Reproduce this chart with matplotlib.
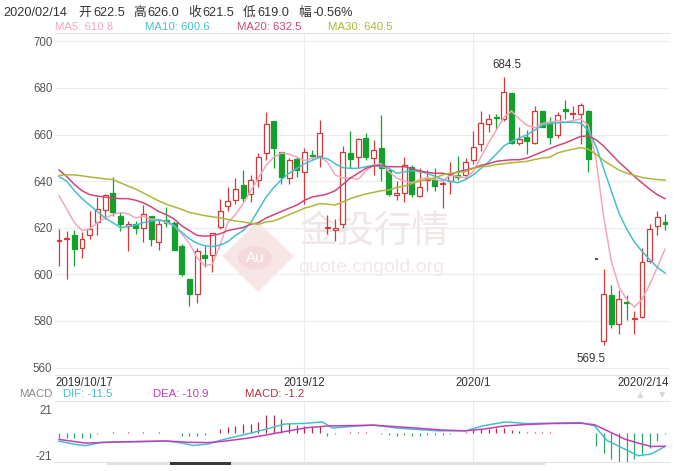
import numpy as np
import matplotlib
matplotlib.use("Agg")
import matplotlib.pyplot as plt
from matplotlib.patches import Polygon, Circle, Rectangle

plt.rcParams['font.family'] = ['Liberation Sans', 'Noto Sans CJK SC', 'DejaVu Sans']

# K线数据 2019/10/17 - 2020/2/14
opens = [614.3, 615.0, 617.0, 611.5, 616.7, 622.6, 627.7, 635.0, 625.2, 620.8,
         621.8, 620.1, 625.2, 614.0, 623.3, 621.9, 612.3, 597.9, 591.4, 608.1,
         608.1, 620.5, 629.5, 631.8, 638.2, 634.5, 640.7, 651.9, 665.8, 652.7,
         641.4, 649.6, 643.8, 651.4, 650.7, 619.8, 619.2, 621.8, 652.1, 650.3,
         658.5, 649.9, 654.4, 644.8, 634.2, 634.8, 646.2, 633.8, 640.7, 640.3,
         638.6, 640.0, 642.5, 642.7, 649.3, 655.8, 664.7, 667.4, 666.7, 677.7,
         656.4, 658.9, 656.4, 670.2, 665.4, 659.9, 670.8, 668.8, 668.8, 670.1,
         606.8, 571.2, 591.2, 578.6, 588.3, 580.8, 581.8, 605.8, 620.8, 622.5]
highs = [619.5, 618.8, 619.0, 618.1, 627.4, 633.2, 634.5, 641.6, 626.6, 622.9,
         622.9, 629.7, 625.2, 623.6, 629.0, 622.9, 612.9, 598.0, 611.2, 612.0,
         617.7, 632.5, 637.3, 641.4, 644.8, 642.5, 652.3, 669.5, 665.8, 652.7,
         649.9, 650.3, 654.4, 653.4, 666.3, 625.6, 623.6, 655.1, 661.5, 658.5,
         660.5, 657.8, 668.4, 644.8, 640.0, 650.3, 646.8, 645.5, 644.8, 645.5,
         640.0, 648.2, 651.0, 650.0, 661.7, 670.1, 668.8, 669.0, 684.5, 677.7,
         663.4, 661.9, 672.3, 670.2, 667.4, 669.5, 674.7, 672.1, 673.7, 670.5,
         606.8, 602.3, 595.4, 593.1, 591.3, 584.3, 611.2, 621.6, 627.4, 626.0]
lows = [603.5, 598.2, 603.7, 607.1, 615.3, 616.7, 623.6, 625.0, 618.8, 610.1,
        617.4, 614.0, 612.0, 610.5, 620.5, 610.5, 599.2, 586.6, 587.5, 603.3,
        601.2, 619.5, 627.0, 630.4, 631.1, 631.1, 637.3, 648.9, 645.5, 638.6,
        638.9, 642.0, 630.4, 649.6, 646.2, 617.4, 614.2, 619.7, 645.8, 645.5,
        648.9, 642.7, 640.0, 633.8, 631.8, 631.1, 633.2, 633.2, 635.9, 635.9,
        628.4, 634.5, 640.7, 641.0, 647.5, 653.0, 661.2, 662.5, 665.8, 656.0,
        655.6, 651.6, 655.8, 663.4, 655.8, 658.5, 666.9, 666.9, 655.8, 644.0,
        606.8, 569.5, 577.0, 574.2, 580.5, 574.3, 581.1, 605.0, 616.7, 619.0]
closes = [614.7, 615.5, 611.0, 615.0, 619.3, 628.2, 634.0, 626.6, 621.5, 621.8,
          619.7, 626.0, 615.1, 621.8, 622.2, 610.5, 600.3, 591.4, 610.1, 607.1,
          617.7, 627.4, 631.5, 636.6, 632.7, 640.4, 650.3, 664.7, 654.4, 641.6,
          649.2, 644.8, 652.7, 650.7, 660.8, 620.4, 619.8, 652.6, 649.6, 658.1,
          650.3, 653.4, 645.5, 634.5, 634.8, 647.1, 634.5, 637.3, 641.4, 637.9,
          639.3, 642.7, 641.6, 648.2, 654.8, 665.0, 666.7, 667.0, 678.4, 656.4,
          658.0, 657.1, 670.2, 663.4, 658.9, 668.5, 670.1, 669.3, 672.5, 649.6,
          606.8, 591.5, 578.5, 589.3, 587.6, 581.3, 605.1, 619.5, 624.7, 621.5]

ma5 = [633.8, 628.0, 622.2, 618.8, 619.5, 622.2, 624.2, 625.6, 626.6, 626.0,
       624.2, 625.0, 623.6, 623.6, 622.2, 620.8, 617.4, 613.3, 607.1, 603.7,
       604.4, 612.6, 622.2, 625.6, 630.4, 635.9, 641.4, 646.8, 650.3, 652.1,
       651.6, 650.3, 648.9, 649.9, 650.3, 648.2, 642.7, 641.4, 641.4, 640.7,
       644.4, 646.8, 647.5, 644.1, 641.4, 640.0, 639.3, 640.7, 641.4, 640.7,
       640.0, 642.7, 642.0, 641.4, 644.1, 650.3, 656.4, 661.9, 667.4, 670.1,
       666.7, 664.0, 663.0, 664.7, 665.3, 666.0, 665.3, 666.0, 666.7, 664.0,
       649.6, 624.9, 605.8, 594.8, 589.3, 585.9, 589.3, 595.5, 603.0, 610.8]
ma10 = [642.0, 640.0, 635.9, 632.5, 629.7, 627.0, 624.2, 622.2, 620.1, 620.5,
        621.1, 622.2, 622.9, 623.3, 622.9, 620.8, 618.1, 615.3, 613.3, 612.3,
        611.9, 612.6, 614.0, 616.7, 618.8, 622.2, 627.7, 633.2, 637.3, 640.7,
        643.4, 645.5, 647.5, 648.9, 650.3, 649.6, 647.5, 645.8, 645.5, 645.5,
        646.2, 646.8, 646.2, 645.5, 643.4, 644.0, 644.5, 644.1, 643.4, 642.1,
        640.7, 640.0, 639.3, 640.7, 642.7, 645.5, 648.2, 651.6, 655.1, 657.1,
        658.5, 659.9, 661.9, 664.0, 664.7, 665.0, 665.3, 665.3, 665.0, 661.9,
        655.1, 645.5, 635.9, 626.3, 619.5, 614.0, 609.9, 606.4, 603.0, 600.6]
ma20 = [644.8, 642.0, 638.6, 635.9, 634.2, 633.6, 633.2, 632.7, 632.5, 632.5,
        631.8, 630.7, 629.0, 627.0, 625.6, 623.8, 620.8, 618.8, 616.7, 616.4,
        616.7, 617.4, 618.8, 619.5, 620.1, 621.5, 622.2, 624.2, 625.6, 627.0,
        628.4, 629.7, 631.8, 633.2, 633.8, 634.5, 635.9, 638.6, 641.4, 643.4,
        645.5, 646.6, 646.8, 646.2, 646.2, 646.2, 645.5, 644.4, 643.8, 643.4,
        643.4, 642.7, 644.1, 644.8, 645.5, 646.8, 647.5, 648.5, 648.9, 649.2,
        649.2, 649.9, 651.2, 652.6, 654.0, 655.3, 656.4, 657.8, 659.2, 659.4,
        657.8, 655.1, 651.6, 648.2, 645.2, 642.1, 639.3, 636.6, 634.2, 632.5]
ma30 = [642.5, 642.7, 642.7, 642.3, 641.8, 641.4, 641.0, 640.7, 639.3, 637.9,
        636.6, 634.9, 633.2, 631.5, 630.1, 629.0, 627.9, 626.6, 625.9, 625.2,
        624.7, 624.2, 623.6, 622.9, 622.5, 621.9, 621.5, 622.5, 622.9, 624.2,
        625.6, 627.0, 628.4, 629.3, 630.4, 630.1, 629.7, 631.1, 632.5, 633.6,
        634.5, 635.2, 635.9, 636.2, 637.3, 637.9, 638.9, 640.0, 640.7, 641.4,
        642.7, 643.4, 643.8, 644.1, 645.5, 646.2, 646.4, 647.1, 647.5, 647.9,
        648.2, 648.5, 649.3, 649.9, 650.3, 652.1, 653.0, 653.7, 654.4, 653.7,
        651.6, 648.9, 646.8, 644.8, 643.4, 642.5, 641.6, 641.1, 640.7, 640.5]

# MACD
dif_x = [0, 2, 3.5, 5.5, 8, 11, 14, 15.5, 17.5, 19.5, 21, 23, 25, 27, 29.4, 32.2,
         34.3, 35.7, 38, 41, 44, 46.7, 49.5, 53, 55.3, 58.2, 61, 64, 68, 69.8,
         71.5, 73.8, 75.5, 77.2, 79]
dif_y = [-7.8, -10.5, -11.8, -9.0, -8.3, -8.0, -7.7, -8.8, -11.6, -10.2, -7.0, -3.8,
         -0.5, 3.0, 7.6, 8.2, 9.5, 4.0, 5.4, 6.8, 4.0, 2.7, 1.5, 1.5, 6.0, 9.5, 8.0,
         8.3, 8.9, 6.0, -7.4, -15.0, -20.8, -19.3, -12.5]
dea_x = [0, 3.5, 6, 10, 14, 17, 19.5, 21.5, 24.7, 27, 29.4, 32.2, 35, 38, 41, 44,
         46.7, 50, 53, 55.3, 58, 61, 64, 68, 69.8, 71.5, 73.8, 75.5, 77.2, 79]
dea_y = [-6.2, -9.5, -8.8, -8.2, -7.6, -8.8, -9.0, -7.8, -5.0, -2.2, 0.8, 4.2, 5.8,
         6.2, 6.5, 5.2, 3.9, 2.2, 1.5, 3.0, 5.8, 7.2, 8.0, 8.3, 7.0, 1.5, -6.0, -9.5,
         -12.5, -12.3]
macd_bar = [-4.5, -4.5, -4.5, -4.8, -5.0, -1.5, -0.3, 0.2, -0.2, 0.2,
            -0.2, 0.3, -0.3, 0.2, -0.3, -0.8, -3.0, -3.2, -3.0, -2.5,
            -0.5, 3.0, 4.5, 6.0, 7.5, 8.0, 9.5, 15.5, 16.0, 12.5,
            8.5, 6.5, 6.0, 6.0, 6.0, -3.5, -1.0, -0.5, 0.3, 0.3,
            0.2, -0.3, -1.5, -2.5, -3.0, -2.5, -3.0, -3.0, -2.5, -2.5,
            -2.0, -1.0, -0.3, 0.5, 2.0, 3.0, 3.5, 4.0, 4.0, 2.5,
            1.0, 0.5, 0.3, 0.2, 0.3, -0.2, -0.3, -0.5, -0.5, -0.8,
            -12.0, -18.0, -24.0, -26.0, -26.0, -24.0, -19.0, -14.0, -7.5, -1.2]

date_ticks = [-0.5, 32, 54, 79.5]
date_labels = ['2019/10/17', '2019/12', '2020/1', '2020/2/14']

RED = '#d23a3a'
GREEN = '#14a02c'
C_MA5 = '#f2a7bb'
C_MA10 = '#45bfcf'
C_MA20 = '#d2457c'
C_MA30 = '#afb63a'
GRID = '#ececec'

W, H = 686, 471
def fx(x):
    return x / W
def fy(y):
    return 1 - y / H

fig = plt.figure(figsize=(W / 100, H / 100), dpi=100)
ax = fig.add_axes([fx(55.2), fy(375), (668.8 - 55.2) / W, (375 - 33) / H])
ax2 = fig.add_axes([fx(55.2), fy(462), (668.8 - 55.2) / W, (462 - 401) / H])
ax.patch.set_alpha(0)

# 水印
ax.add_patch(Polygon([[fx(258), fy(222)], [fx(294), fy(256)], [fx(258), fy(292)], [fx(222), fy(256)]],
                     closed=True, transform=fig.transFigure, facecolor='#f8e6e6', edgecolor='none', zorder=0))
ax.add_patch(Circle((fx(255), fy(258)), 17 / W, transform=fig.transFigure,
                    facecolor='#f3d9d9', edgecolor='none', zorder=0))
ax.text(fx(255), fy(258), 'Au', transform=fig.transFigure, fontsize=11, color='white',
        ha='center', va='center', zorder=0)
ax.text(fx(300), fy(231), '金投行情', transform=fig.transFigure, fontsize=27, color='#f1e6e6',
        family='Noto Sans CJK SC', ha='left', va='center', zorder=0)
ax.text(fx(298), fy(268), 'quote.cngold.org', transform=fig.transFigure, fontsize=14, color='#f1e8e8',
        ha='left', va='center', zorder=0)

x = np.arange(len(opens))
o = np.array(opens)
c = np.array(closes)
h = np.array(highs)
l = np.array(lows)
up = c >= o
flat = h == l
col = ['#555555' if f else (RED if u else GREEN) for u, f in zip(up, flat)]
face = ['white' if u else GREEN for u in up]
body_lo = np.minimum(o, c)
body_h = np.maximum(np.abs(c - o), 0.25)
widths = [0.35 if f else 0.64 for f in flat]

ax.vlines(x, lows, highs, colors=col, lw=0.9, zorder=2)
ax.bar(x, body_h, bottom=body_lo, width=widths, color=face, edgecolor=col, linewidth=0.9, zorder=3)

ax.plot(x, ma5, color=C_MA5, lw=1.1, zorder=4)
ax.plot(x, ma10, color=C_MA10, lw=1.1, zorder=4)
ax.plot(x, ma20, color=C_MA20, lw=1.1, zorder=4)
ax.plot(x, ma30, color=C_MA30, lw=1.1, zorder=4)

ax.annotate('684.5', (58, 684.5), xytext=(2, 9), textcoords='offset points',
            ha='center', va='center', fontsize=8.3, color='#333333')
ax.annotate('569.5', (71, 569.5), xytext=(-9, -10), textcoords='offset points',
            ha='center', va='center', fontsize=8.3, color='#333333')

ax.set_xlim(-0.5, 79.5)
ax.set_ylim(556.8, 703.6)
ax.set_yticks(range(560, 701, 20))
ax.grid(axis='y', color=GRID, lw=0.8, zorder=1)
for v in [32, 54]:
    ax.axvline(v, color=GRID, lw=0.8, zorder=1)
ax.set_xticks(date_ticks)
ax.set_xticklabels(date_labels)
labs = ax.get_xticklabels()
labs[0].set_ha('left')
labs[-1].set_ha('right')
ax.tick_params(axis='both', length=0, labelsize=8.3)
ax.tick_params(axis='y', colors='#555555', pad=2)
ax.tick_params(axis='x', colors='#333333', pad=1.5)
for s in ['left', 'right']:
    ax.spines[s].set_visible(False)
for s in ['top', 'bottom']:
    ax.spines[s].set_color('#e4e4e4')

# MACD 副图
ax2.vlines(x, 0, macd_bar, colors=['#b8283c' if v > 0 else '#2aa864' for v in macd_bar], lw=0.9)
ax2.plot(dif_x, dif_y, color=C_MA10, lw=1.1)
ax2.plot(dea_x, dea_y, color='#c23cbc', lw=1.1)
ax2.set_xlim(-0.5, 79.5)
ax2.set_ylim(-26.4, 28.2)
ax2.set_yticks([21, -21])
ax2.set_yticklabels(['21', '-21'])
ax2.set_xticks([])
for v in [32, 54]:
    ax2.axvline(v, color=GRID, lw=0.8, zorder=0)
ax2.tick_params(axis='y', length=0, labelsize=8.3, colors='#555555', pad=2)
for s in ['left', 'right']:
    ax2.spines[s].set_visible(False)
for s in ['top', 'bottom']:
    ax2.spines[s].set_color('#e4e4e4')

# 顶部信息
head = [(3, '2020/02/14'), (78, '开'), (93, '622.5'), (133, '高'), (147, '626.0'),
        (188, '收'), (202, '621.5'), (243, '低'), (257, '619.0'), (298, '幅'), (312, '-0.56%')]
for px, t in head:
    fig.text(fx(px), fy(13), t, fontsize=9.2, color='#333333', ha='left', va='center')

ma_legend = [(55, 'MA5: 610.8', C_MA5), (145, 'MA10: 600.6', C_MA10),
             (237, 'MA20: 632.5', C_MA20), (328, 'MA30: 640.5', C_MA30)]
for px, t, cc in ma_legend:
    fig.text(fx(px), fy(27), t, fontsize=8.2, color=cc, ha='left', va='center')

macd_legend = [(19, 'MACD', '#888888'), (63, 'DIF: -11.5', C_MA10),
               (153, 'DEA: -10.9', '#c23cbc'), (245, 'MACD: -1.2', '#b8303c')]
for px, t, cc in macd_legend:
    fig.text(fx(px), fy(394), t, fontsize=8.2, color=cc, ha='left', va='center')
fig.text(fx(640), fy(395), '▲', fontsize=6, color='#d8d8d8', ha='center', va='center', family='DejaVu Sans')
fig.text(fx(662), fy(395), '▼', fontsize=6, color='#d8d8d8', ha='center', va='center', family='DejaVu Sans')

# 滚动条
fig.patches.append(Rectangle((fx(107), fy(465)), (545 - 107) / W, 3 / H, transform=fig.transFigure,
                             facecolor='#e2e2e2', edgecolor='none'))
fig.patches.append(Rectangle((fx(170), fy(465)), (231 - 170) / W, 3 / H, transform=fig.transFigure,
                             facecolor='#3a3a3a', edgecolor='none'))

fig.savefig('out.png', dpi=100)
